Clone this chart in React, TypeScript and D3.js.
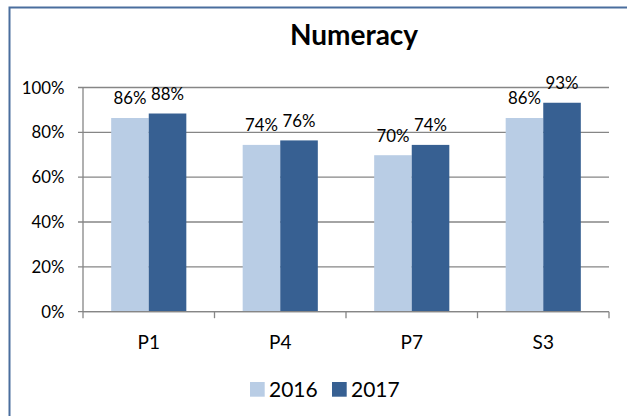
import * as d3 from "d3";

const categories = ["P1", "P4", "P7", "S3"];
const seriesNames = ["2016", "2017"];
const values2016 = [0.864, 0.744, 0.698, 0.864];
const values2017 = [0.884, 0.764, 0.744, 0.932];
const yTicks = [0, 0.2, 0.4, 0.6, 0.8, 1];

const WIDTH = 627;
const HEIGHT = 416;
const COLORS = ["#B9CDE5", "#376092"];
const AXIS = "#868686";
const FONT = "Lato, 'Open Sans', sans-serif";

const App = () => {
  const x = d3.scaleBand<string>().domain(categories).range([83, 609]);
  const xs = d3
    .scaleBand<string>()
    .domain(seriesNames)
    .range([0, x.bandwidth()])
    .paddingOuter(0.75);
  const y = d3.scaleLinear().domain([0, 1]).range([311.7, 87.5]);
  const color = d3.scaleOrdinal<string, string>().domain(seriesNames).range(COLORS);
  const pct = d3.format(".0%");

  const series = [values2016, values2017];
  const bounds = [...categories.map((c) => x(c)!), x.range()[1]];

  return (
    <svg
      width={WIDTH}
      height={HEIGHT}
      style={{ position: "absolute", left: 0, top: 0, background: "#fff" }}
      fontFamily={FONT}
    >
      {/* chart frame */}
      <rect x={9.5} y={7.5} width={640} height={440} fill="#fff" stroke="#4A6E9E" strokeWidth={2} />

      <text x={354} y={45} textAnchor="middle" fontSize={28} fontWeight="bold" fill="#000">
        Numeracy
      </text>

      {/* gridlines + y ticks */}
      {yTicks.map((t) => (
        <g key={t}>
          <line x1={78} x2={609} y1={y(t)} y2={y(t)} stroke={AXIS} strokeWidth={1.3} />
          <text x={64.5} y={y(t)} dy="0.36em" textAnchor="end" fontSize={16.8} fill="#000">
            {pct(t)}
          </text>
        </g>
      ))}

      <line x1={83} x2={83} y1={y(1)} y2={y(0)} stroke={AXIS} strokeWidth={1.3} />

      {/* bars */}
      {series.map((vals, si) =>
        vals.map((v, ci) => {
          const bx = x(categories[ci])! + xs(seriesNames[si])!;
          return (
            <rect
              key={`${si}-${ci}`}
              x={bx}
              y={y(v)}
              width={xs.bandwidth()}
              height={y(0) - y(v)}
              fill={color(seriesNames[si])}
            />
          );
        })
      )}

      {/* data labels */}
      {series.map((vals, si) =>
        vals.map((v, ci) => {
          const cx = x(categories[ci])! + xs(seriesNames[si])! + xs.bandwidth() / 2;
          return (
            <text
              key={`l${si}-${ci}`}
              x={cx}
              y={y(v) - 13.5}
              textAnchor="middle"
              fontSize={16.8}
              fill="#000"
            >
              {pct(v)}
            </text>
          );
        })
      )}

      {/* x axis */}
      <line x1={83} x2={609} y1={y(0)} y2={y(0)} stroke={AXIS} strokeWidth={1.3} />
      {bounds.map((b) => (
        <line key={b} x1={b} x2={b} y1={y(0)} y2={y(0) + 6.5} stroke={AXIS} strokeWidth={1.3} />
      ))}
      {categories.map((c) => (
        <text key={c} x={x(c)! + x.bandwidth() / 2} y={349} textAnchor="middle" fontSize={19} fill="#000">
          {c}
        </text>
      ))}

      {/* legend */}
      {seriesNames.map((s, i) => {
        const lx = [250, 332][i];
        return (
          <g key={s}>
            <rect x={lx} y={382} width={14.7} height={14.7} fill={color(s)} />
            <text x={lx + 19} y={396.7} fontSize={21} fill="#000">
              {s}
            </text>
          </g>
        );
      })}
    </svg>
  );
};

export default App;
